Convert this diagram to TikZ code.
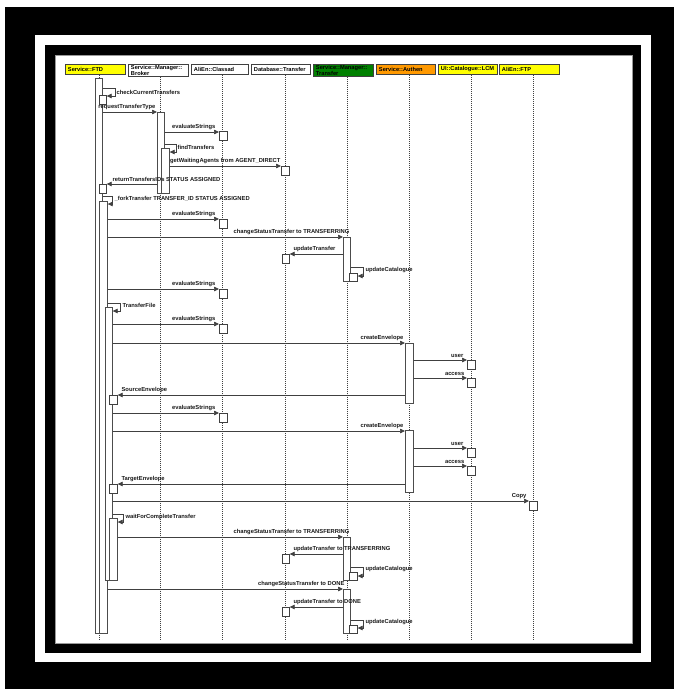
\documentclass[tikz,border=0pt]{standalone}
\usepackage{fontspec}
\setmainfont{Liberation Sans}
\usetikzlibrary{arrows.meta}
\newcommand{\lblfont}{\fontsize{5.8}{7}\selectfont\bfseries}
\newcommand{\hdrfont}{\fontsize{5.7}{6.3}\selectfont\bfseries}
\definecolor{hyellow}{RGB}{255,255,0}
\definecolor{hgreen}{RGB}{0,128,0}
\definecolor{horange}{RGB}{255,153,0}
\begin{document}
\begin{tikzpicture}[x=1pt,y=-1pt,
  hdr/.style={draw=black!75, line width=0.9pt, anchor=north west, minimum height=10pt,
    inner xsep=2.5pt, inner ysep=0.6pt, align=left, font=\hdrfont},
  life/.style={draw=black!75, line width=0.6pt, dash pattern=on 1pt off 1pt},
  bar/.style={draw=black!70, fill=white, line width=0.65pt, anchor=north west, inner sep=0pt, minimum width=7pt},
  sbox/.style={draw=black!75, fill=white, line width=0.65pt, anchor=north west, inner sep=0pt, minimum width=8pt, minimum height=9pt},
  msg/.style={draw=black!75, line width=0.7pt, -{Triangle[length=5pt,width=4.5pt]}},
  lbl/.style={font=\lblfont, inner sep=0.4pt, text=black!90}
]
\useasboundingbox (0,0) rectangle (674,689);
% frames
\fill[black] (5,7) rectangle (674,689);
\fill[white] (35,35) rectangle (651,662);
\fill[black] (45,45) rectangle (641,653);
\filldraw[fill=white, draw=black!40, line width=0.5pt] (55,55) rectangle (632,643);

% headers
\node[hdr, fill=hyellow, text width=55pt] (hFTD) at (65,64) {Service::FTD};
\node[hdr, fill=white, text width=55pt] (hBRK) at (128,64) {Service::Manager::\\Broker};
\node[hdr, fill=white, text width=52pt] (hCLA) at (191,64) {AliEn::Classad};
\node[hdr, fill=white, text width=54pt] (hDB) at (251,64) {Database::Transfer};
\node[hdr, fill=hgreen, text width=55pt] (hTR) at (313,64) {Service::Manager::\\Transfer};
\node[hdr, fill=horange, text width=54pt] (hAU) at (376,64) {Service::Authen};
\node[hdr, fill=hyellow, text width=54pt] (hUI) at (438,64) {UI::Catalogue::LCM};
\node[hdr, fill=hyellow, text width=55pt] (hFTP) at (499,64) {AliEn::FTP};

% lifelines
\draw[life] (99,0 |- hFTD.south) -- (99,640);
\draw[life] (160,0 |- hBRK.south) -- (160,640);
\draw[life] (222,0 |- hCLA.south) -- (222,640);
\draw[life] (285,0 |- hDB.south) -- (285,640);
\draw[life] (347,0 |- hTR.south) -- (347,640);
\draw[life] (409,0 |- hAU.south) -- (409,640);
\draw[life] (471,0 |- hUI.south) -- (471,640);
\draw[life] (533,0 |- hFTP.south) -- (533,640);

% activation bars
\node[bar, minimum height=555pt] (bA) at (95,78) {};
\node[bar, minimum width=8pt, minimum height=432pt] (bB) at (99,201) {};
\node[bar, minimum height=273pt] (bC) at (105,307) {};
\node[bar, minimum width=8pt, minimum height=62pt] (bD) at (109,518) {};
\node[bar, minimum height=81pt] (bE) at (157,112) {};
\node[bar, minimum width=8pt, minimum height=45pt] (bF) at (161,148) {};
\node[bar, minimum height=44pt] (bG1) at (343,237) {};
\node[bar, minimum height=43pt] (bG2) at (343,537) {};
\node[bar, minimum height=44pt] (bG3) at (343,589) {};
\node[bar, minimum width=8pt, minimum height=60pt] (bH1) at (405,343) {};
\node[bar, minimum width=8pt, minimum height=62pt] (bH2) at (405,430) {};

% small boxes
\node[sbox, minimum width=7pt] (chk) at (99,95) {};
\node[sbox, minimum width=7pt] (ret) at (99,184) {};
\node[sbox] (e1) at (219,131) {};
\node[sbox] (gw) at (281,166) {};
\node[sbox] (e2) at (219,219) {};
\node[sbox, minimum width=7pt] (u1) at (282,254) {};
\node[sbox, minimum height=8pt] (c1) at (349,273) {};
\node[sbox] (e3) at (219,289) {};
\node[sbox] (e4) at (219,324) {};
\node[sbox] (us1) at (467,360) {};
\node[sbox] (ac1) at (467,378) {};
\node[sbox] (src) at (109,395) {};
\node[sbox] (e5) at (219,413) {};
\node[sbox] (us2) at (467,448) {};
\node[sbox] (ac2) at (467,466) {};
\node[sbox] (tgt) at (109,484) {};
\node[sbox] (cp) at (529,501) {};
\node[sbox, minimum width=7pt] (u2) at (282,554) {};
\node[sbox, minimum height=8pt] (c2) at (349,572) {};
\node[sbox, minimum width=7pt] (u3) at (282,607) {};
\node[sbox, minimum height=8pt] (c3) at (349,625) {};

% self calls
\draw[msg] (bA.east |- 0,88) -- ++(13,0) |- (chk.east |- 0,96);
\node[lbl, anchor=west] (l1) at (116,92) {checkCurrentTransfers};
\draw[msg] (bE.east |- 0,144) -- ++(12,0) |- (bF.east |- 0,152);
\node[lbl, anchor=west] (l4) at (177,147) {findTransfers};
\draw[msg] (bA.east |- 0,196) -- ++(10,0) |- (bB.east |- 0,204);
\node[lbl, anchor=west] (l6) at (114,199) {\_forkTransfer TRANSFER\_ID STATUS ASSIGNED};
\draw[msg] (bB.east |- 0,303) -- ++(13,0) |- (bC.east |- 0,311);
\node[lbl, anchor=west] (l11) at (122,305) {TransferFile};
\draw[msg] (bC.east |- 0,514) -- ++(11,0) |- (bD.east |- 0,522);
\node[lbl, anchor=west] (l21) at (125,517) {waitForCompleteTransfer};
\draw[msg] (bG1.east |- 0,267) -- ++(13,0) |- (c1.east |- 0,276);
\node[lbl, anchor=west] (l10) at (365,270) {updateCatalogue};
\draw[msg] (bG2.east |- 0,567) -- ++(13,0) |- (c2.east |- 0,576);
\node[lbl, anchor=west] (l24) at (365,569) {updateCatalogue};
\draw[msg] (bG3.east |- 0,620) -- ++(13,0) |- (c3.east |- 0,628);
\node[lbl, anchor=west] (l27) at (365,622) {updateCatalogue};

% calls
\draw[msg] (bA.east |- 0,112) -- (bE.west |- 0,112);
\node[lbl, anchor=south east] (l2) at (156,110.5) {requestTransferType};
\draw[msg] (bE.east |- 0,132) -- (e1.west |- 0,132);
\node[lbl, anchor=south east] (l3) at (216,130.5) {evaluateStrings};
\draw[msg] (bF.east |- 0,166) -- (gw.west |- 0,166);
\node[lbl, anchor=south east] (l5) at (281,164.5) {getWaitingAgents from AGENT\_DIRECT};
\draw[msg] (bB.east |- 0,219) -- (e2.west |- 0,219);
\node[lbl, anchor=south east] (l7) at (216,217.5) {evaluateStrings};
\draw[msg] (bB.east |- 0,237) -- (bG1.west |- 0,237);
\node[lbl, anchor=south east] (l8) at (350,235.5) {changeStatusTransfer to TRANSFERRING};
\draw[msg] (bB.east |- 0,289) -- (e3.west |- 0,289);
\node[lbl, anchor=south east] (l9) at (216,287.5) {evaluateStrings};
\draw[msg] (bC.east |- 0,324) -- (e4.west |- 0,324);
\node[lbl, anchor=south east] (l12) at (216,322.5) {evaluateStrings};
\draw[msg] (bC.east |- 0,343) -- (bH1.west |- 0,343);
\node[lbl, anchor=south east] (l13) at (404,341.5) {createEnvelope};
\draw[msg] (bH1.east |- 0,360) -- (us1.west |- 0,360);
\node[lbl, anchor=south east] (l14) at (464,358.5) {user};
\draw[msg] (bH1.east |- 0,378) -- (ac1.west |- 0,378);
\node[lbl, anchor=south east] (l15) at (465,376.5) {access};
\draw[msg] (bC.east |- 0,413) -- (e5.west |- 0,413);
\node[lbl, anchor=south east] (l17) at (216,411.5) {evaluateStrings};
\draw[msg] (bC.east |- 0,431) -- (bH2.west |- 0,431);
\node[lbl, anchor=south east] (l18) at (404,429.5) {createEnvelope};
\draw[msg] (bH2.east |- 0,448) -- (us2.west |- 0,448);
\node[lbl, anchor=south east] (l19) at (464,446.5) {user};
\draw[msg] (bH2.east |- 0,466) -- (ac2.west |- 0,466);
\node[lbl, anchor=south east] (l20) at (465,464.5) {access};
\draw[msg] (bC.east |- 0,501) -- (cp.west |- 0,501);
\node[lbl, anchor=south east] (l23) at (527,499.5) {Copy};
\draw[msg] (bD.east |- 0,537) -- (bG2.west |- 0,537);
\node[lbl, anchor=south east] (l22) at (350,535.5) {changeStatusTransfer to TRANSFERRING};
\draw[msg] (bB.east |- 0,589) -- (bG3.west |- 0,589);
\node[lbl, anchor=south east] (l25) at (345,587.5) {changeStatusTransfer to DONE};

% returns
\draw[msg] (bE.west |- 0,184) -- (ret.east |- 0,184);
\node[lbl, anchor=south west] (r1) at (112,182.5) {returnTransfersIDs STATUS ASSIGNED};
\draw[msg] (bG1.west |- 0,254) -- (u1.east |- 0,254);
\node[lbl, anchor=south west] (r2) at (293,252.5) {updateTransfer};
\draw[msg] (bH1.west |- 0,395) -- (src.east |- 0,395);
\node[lbl, anchor=south west] (r3) at (121,393.5) {SourceEnvelope};
\draw[msg] (bH2.west |- 0,484) -- (tgt.east |- 0,484);
\node[lbl, anchor=south west] (r4) at (121,482.5) {TargetEnvelope};
\draw[msg] (bG2.west |- 0,554) -- (u2.east |- 0,554);
\node[lbl, anchor=south west] (r5) at (293,552.5) {updateTransfer to TRANSFERRING};
\draw[msg] (bG3.west |- 0,607) -- (u3.east |- 0,607);
\node[lbl, anchor=south west] (r6) at (293,605.5) {updateTransfer to DONE};
\end{tikzpicture}
\end{document}
